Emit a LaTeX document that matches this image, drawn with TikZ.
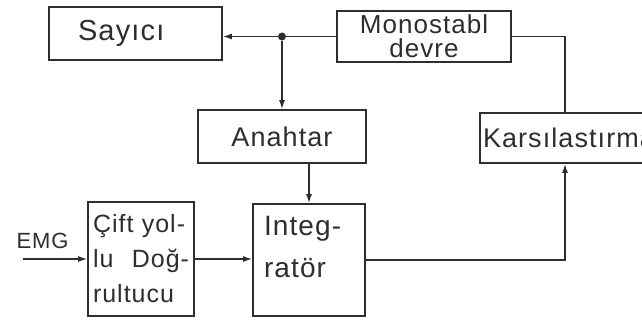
\documentclass[tikz,border=0pt]{standalone}
\usepackage{fontspec}
\setmainfont{Liberation Sans}[LetterSpace=4]
\usepackage{tikz}
\usetikzlibrary{arrows.meta}
\definecolor{inkgray}{RGB}{45, 45, 50}

\begin{document}
\begin{tikzpicture}[x=1pt, y=-1pt, font=\fontsize{27}{32}\selectfont, inkgray,
    block/.style={draw=inkgray, line width=1.7pt, inner ysep=0pt, text=inkgray},
    wire/.style={draw=inkgray, line width=1.4pt},
    tip/.style={-{Latex[length=9pt, width=6pt]}},
    junction/.style={circle, fill=inkgray, inner sep=0pt, minimum size=8pt}]
        \useasboundingbox (0,0) rectangle (642,323);
        \clip (0,0) rectangle (642,323);
        % Sayici
        \node[block, text width=115pt, inner xsep=29pt, minimum height=53pt, align=left,
              font=\fontsize{29}{32}\selectfont] (sayici) at (135.5,33.5) {Sayıcı};
        % Monostabl devre
        \node[block, minimum width=174pt, minimum height=51pt, align=center,
              font=\fontsize{26}{24}\selectfont] (mono) at (424,36.5) {Monostabl\\devre};
        % Anahtar
        \node[block, minimum width=168pt, minimum height=53pt] (anahtar) at (282,136.5) {Anahtar};
        % Karsilastirma
        \node[block, text width=164pt, inner xsep=3pt, minimum height=50pt, align=left] (karsi) at (565,138) {\mbox{Karsılastırma}};
        % Cift yollu dogrultucu
        \node[block, text width=96pt, inner xsep=5pt, minimum height=114pt, align=left,
              font=\fontsize{25}{35}\selectfont] (cift) at (141,259) {\mbox{Çift yol-}\\\mbox{lu}\hfill\mbox{Doğ-}\\\mbox{rultucu}};
        % Integrator
        \node[block, text width=90pt, inner xsep=11pt, minimum height=112pt, align=left,
              font=\fontsize{28}{42}\selectfont] (integ) at (309,260) {Integ-\\ratör\\[-16pt]\mbox{}};
        % EMG input
        \node[font=\fontsize{22}{24}\selectfont, inner sep=0pt] (emg) at (42.5,240.5) {EMG};
        \coordinate (emgin) at (23,259);
        \draw[wire, tip] (emgin) -- (cift.west);
        \draw[wire, tip] (cift.east) -- (cift.east -| integ.west);
        % outputs and feedback
        \draw[wire, tip] (integ.east) -- (integ.east -| karsi.south) -- (karsi.south);
        \draw[wire] (mono.east) -- (mono.east -| karsi.north) -- (karsi.north);
        \node[junction] (dot) at (anahtar.north |- mono.west) {};
        \draw[wire] (mono.west) -- (dot);
        \draw[wire, tip] (dot) -- (dot -| sayici.east);
        \draw[wire, tip] (dot) -- (anahtar.north);
        \draw[wire, tip] (anahtar.south -| integ.north) -- (integ.north);
\end{tikzpicture}
\end{document}
